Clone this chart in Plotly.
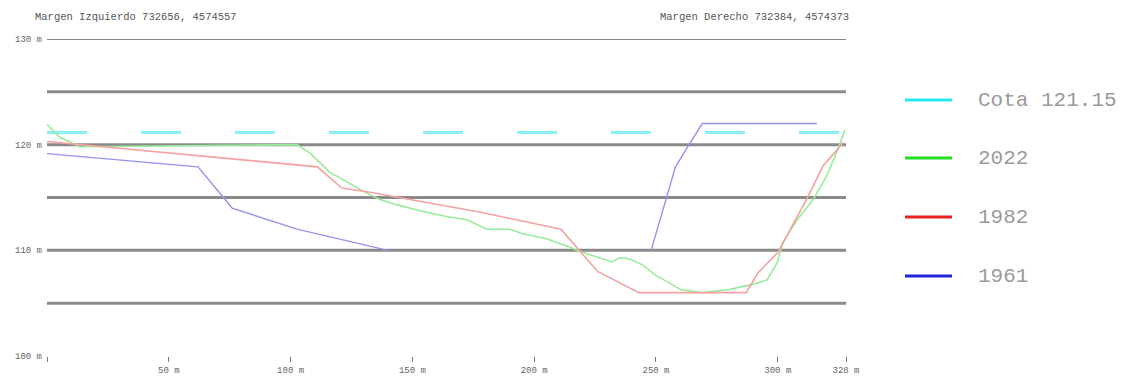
import plotly.graph_objects as go

# Cross-section profile of the channel: distance (m) vs elevation (m)
dist_2022 = [0, 5.3, 13.5, 50, 102.6, 108, 116, 123, 129.7, 136.7, 143.7, 154, 164,
             172.4, 177.7, 180.6, 190, 195, 205, 209, 214.7, 220, 228, 232, 235, 239,
             244.6, 250, 255.7, 260, 269, 280, 290, 295.6, 299.7, 302, 308, 314.5,
             320, 324, 327.6]
elev_2022 = [121.9, 120.7, 119.8, 119.9, 120.0, 119.2, 117.4, 116.5, 115.6, 114.8,
             114.3, 113.7, 113.2, 112.9, 112.3, 112.0, 112.0, 111.6, 111.1, 110.8,
             110.3, 109.8, 109.2, 108.9, 109.3, 109.2, 108.6, 107.6, 106.9, 106.3,
             106.0, 106.3, 106.8, 107.2, 108.8, 110.7, 112.9, 114.8, 117.0, 119.2,
             121.4]

dist_1982 = [0, 111, 121, 132.6, 178, 211, 226, 243, 287, 292, 300, 312, 318.6, 327]
elev_1982 = [120.3, 117.9, 115.9, 115.5, 113.6, 112.0, 108.0, 106.0, 106.0, 107.9,
             109.8, 114.9, 118.0, 120.2]

dist_1961 = [0, 62, 76, 102.6, 140, None, 248, 253, 258, 263, 269, 316]
elev_1961 = [119.15, 117.9, 114.0, 112.0, 110.0, None, 110.0, 114.0, 117.9, 119.8,
             122.0, 122.0]

cota_level = 121.15
cota_span = [0, 328]

grid_major = [105, 110, 115, 120, 125]
grid_top = 130

x_ticks = [0, 50, 100, 150, 200, 250, 300, 328]
x_tick_text = ["", "50 m", "100 m", "150 m", "200 m", "250 m", "300 m", "328 m"]
y_ticks = [100, 110, 120, 130]
y_tick_text = ["100 m", "110 m", "120 m", "130 m"]

legend_names = ["Cota 121.15", "2022", "1982", "1961"]
legend_colors = ["#22e6f0", "#22dd22", "#ee2222", "#2222dd"]

left_title = "Margen Izquierdo 732656, 4574557"
right_title = "Margen Derecho 732384, 4574373"

fig = go.Figure()

fig.add_trace(go.Scatter(x=cota_span, y=[cota_level, cota_level], mode="lines",
                         line=dict(color="#86f0f4", width=3, dash="40px,54px"),
                         name=legend_names[0], showlegend=False))
fig.add_trace(go.Scatter(x=dist_2022, y=elev_2022, mode="lines",
                         line=dict(color="#98ec98", width=1.6), name=legend_names[1],
                         showlegend=False))
fig.add_trace(go.Scatter(x=dist_1982, y=elev_1982, mode="lines",
                         line=dict(color="#f7a0a0", width=1.6), name=legend_names[2],
                         showlegend=False))
fig.add_trace(go.Scatter(x=dist_1961, y=elev_1961, mode="lines",
                         line=dict(color="#9494ee", width=1.4), name=legend_names[3],
                         connectgaps=False, showlegend=False))

shapes = []
for g in grid_major:
    shapes.append(dict(type="line", xref="paper", x0=0, x1=1, yref="y", y0=g, y1=g,
                       line=dict(color="#8a8a8a", width=3), layer="below"))
shapes.append(dict(type="line", xref="paper", x0=0, x1=1, yref="y", y0=grid_top,
                   y1=grid_top, line=dict(color="#5a5a5a", width=1.6), layer="below"))

# Legend drawn in the right-hand margin
plot_w, plot_h, left, bottom = 799, 317, 47, 356
legend_rows = [100, 158, 217, 276]
annotations = []
for name, color, row in zip(legend_names, legend_colors, legend_rows):
    yp = (bottom - row) / plot_h
    shapes.append(dict(type="line", xref="paper", yref="paper",
                       x0=(905 - left) / plot_w, x1=(952 - left) / plot_w,
                       y0=yp, y1=yp, line=dict(color=color, width=3)))
    annotations.append(dict(xref="paper", yref="paper", x=(976 - left) / plot_w, y=yp,
                            text=name, showarrow=False, xanchor="left", yanchor="middle",
                            font=dict(family="Liberation Mono", size=21, color="#9a9a9a")))

title_font = dict(family="Liberation Mono", size=10.5, color="#555555")
title_y = (bottom - 17) / plot_h
annotations.append(dict(xref="paper", yref="paper", x=(33 - left) / plot_w, y=title_y,
                        text=left_title, showarrow=False, xanchor="left", yanchor="middle",
                        font=title_font))
annotations.append(dict(xref="paper", yref="paper", x=(851 - left) / plot_w, y=title_y,
                        text=right_title, showarrow=False, xanchor="right", yanchor="middle",
                        font=title_font))

fig.update_layout(
    width=1124, height=376,
    margin=dict(l=47, r=278, t=39, b=20),
    paper_bgcolor="white", plot_bgcolor="white",
    showlegend=False,
    shapes=shapes, annotations=annotations,
    xaxis=dict(range=[0, 328], showgrid=False, zeroline=False, showline=False,
               automargin=False,
               tickmode="array", tickvals=x_ticks, ticktext=x_tick_text,
               ticks="outside", ticklen=5, tickwidth=1, tickcolor="#777777",
               ticklabelstandoff=0,
               tickfont=dict(family="Liberation Mono", size=9, color="#666666")),
    yaxis=dict(range=[100, 130], showgrid=False, zeroline=False, showline=False,
               automargin=False,
               tickmode="array", tickvals=y_ticks, ticktext=y_tick_text,
               ticks="", ticklabelstandoff=4,
               tickfont=dict(family="Liberation Mono", size=9, color="#666666")),
)

fig.write_html("out.html")
